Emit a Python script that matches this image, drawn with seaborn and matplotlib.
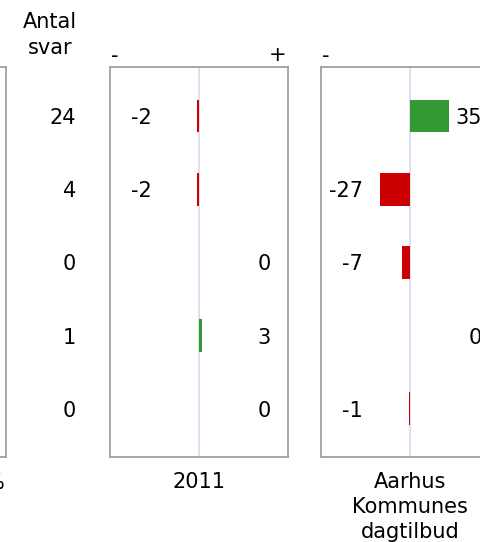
import matplotlib
matplotlib.use("Agg")
import matplotlib.pyplot as plt
import matplotlib.transforms as mtransforms
import seaborn as sns
import pandas as pd

# ---- data ----
rows = ["r1", "r2", "r3", "r4", "r5"]
antal_svar = [24, 4, 0, 1, 0]
diff_2011 = [-2, -2, 0, 3, 0]
diff_aarhus = [35, -27, -7, 0, -1]
panel_titles = ["2011", "Aarhus\nKommunes\ndagtilbud"]
header_text = "Antal\nsvar"

RED = "#CC0000"
GREEN = "#339933"
BORDER = "#A0A0A0"
CENTER = "#DCDCF0"
FS = 15

sns.set_style("white")
plt.rcParams["font.family"] = ["DejaVu Sans"]
plt.rcParams["text.color"] = "black"

W, H = 481, 542
fig = plt.figure(figsize=(W / 100, H / 100), dpi=100)

def px_axes(left, top, right, bottom):
    return fig.add_axes([left / W, 1 - bottom / H, (right - left) / W, (bottom - top) / H])

TOP, BOTTOM = 67, 457
YLIM = (4.66, -0.67)
XLIM = (-80, 80)

def style_panel(ax):
    ax.set_xlim(*XLIM)
    ax.set_ylim(*YLIM)
    ax.set_xticks([])
    ax.set_yticks([])
    ax.set_xlabel("")
    ax.set_ylabel("")
    for s in ax.spines.values():
        s.set_visible(True)
        s.set_color(BORDER)
        s.set_linewidth(1.3)

# partially visible left panel (cut at figure edge)
ax0 = px_axes(6 - 178, TOP, 6, BOTTOM)
style_panel(ax0)
fig.text(5 / W, 1 - 483 / H, "%", ha="right", va="center", fontsize=FS, color="black")

# Antal svar column
axc = px_axes(10, TOP, 100, BOTTOM)
axc.set_axis_off()
axc.set_xlim(0, 1)
axc.set_ylim(*YLIM)
for i, n in enumerate(antal_svar):
    axc.text(66 / 90, i, str(n), ha="right", va="center_baseline", fontsize=FS,
             color="black")
fig.text(50 / W, 1 - 35 / H, header_text, ha="center", va="center", fontsize=FS,
         linespacing=1.32, color="black")

def draw_panel(left, values, title):
    ax = px_axes(left, TOP, left + 178, BOTTOM)
    df = pd.DataFrame({"row": rows, "value": values,
                       "sign": ["neg" if v < 0 else "pos" for v in values]})
    ax.axvline(0, color=CENTER, lw=1.3, zorder=0)
    sns.barplot(data=df, x="value", y="row", hue="sign", order=rows,
                palette={"neg": RED, "pos": GREEN}, orient="h", width=0.45,
                dodge=False, legend=False, saturation=1, linewidth=0,
                edgecolor="none", ax=ax, zorder=2)
    style_panel(ax)
    tr = mtransforms.blended_transform_factory(ax.transAxes, ax.transData)
    for i, v in enumerate(values):
        xpos = 42 / 178 if v < 0 else 161 / 178
        ax.text(xpos, i, str(v), transform=tr, ha="right",
                va="center_baseline", fontsize=FS, color="black")
    # - / + markers above the panel
    ax.text(5 / 178, 1 + 11 / 390, "-", transform=ax.transAxes, ha="center",
            va="center", fontsize=FS, color="black")
    ax.text(168 / 178, 1 + 12 / 390, "+", transform=ax.transAxes, ha="center",
            va="center", fontsize=FS, color="black")
    ax.text(0.5, -15 / 390, title, transform=ax.transAxes, ha="center",
            va="top", fontsize=FS, linespacing=1.32, color="black")
    return ax

draw_panel(110, diff_2011, panel_titles[0])
draw_panel(321, diff_aarhus, panel_titles[1])

fig.savefig("out.png", dpi=100)
